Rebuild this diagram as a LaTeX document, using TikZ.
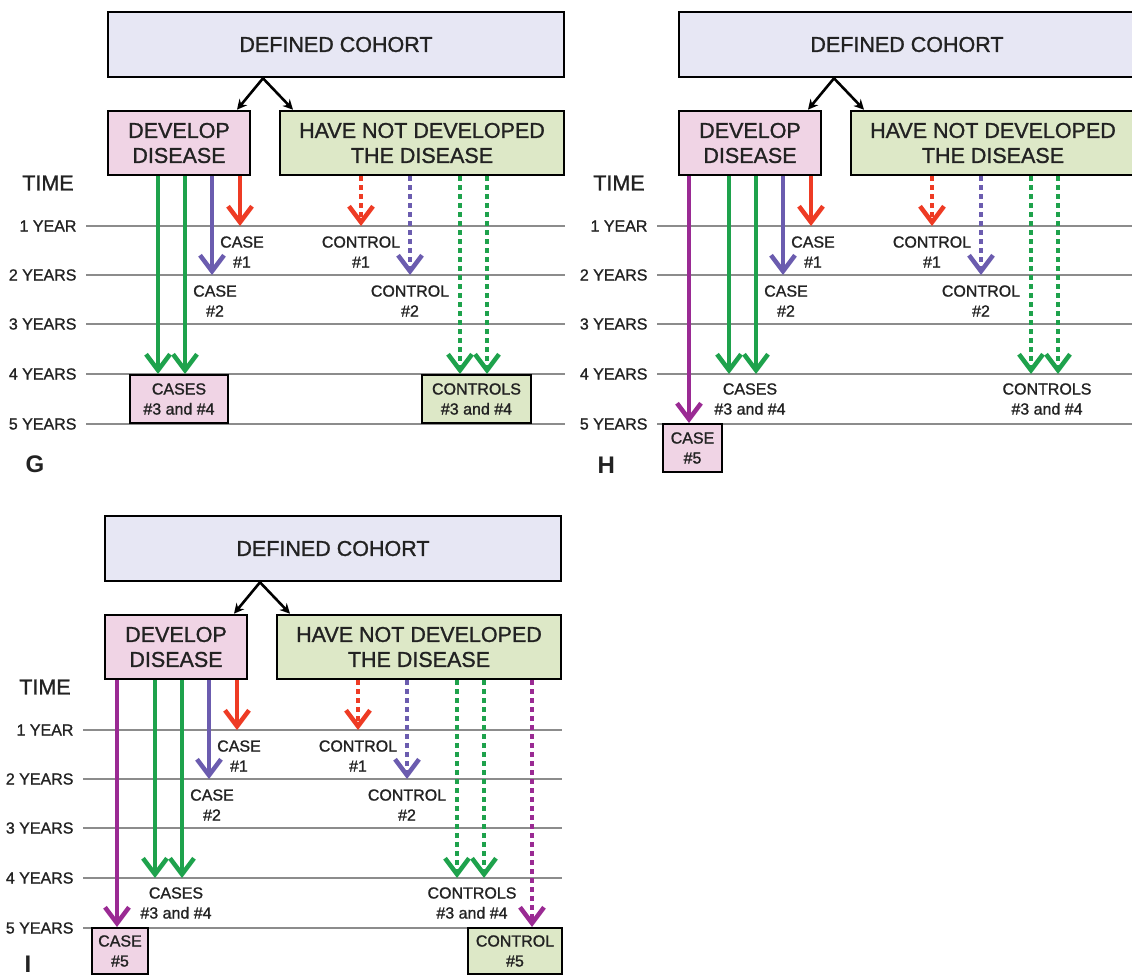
\documentclass[tikz,border=0pt]{standalone}
\usepackage{fontspec}
\setmainfont{Liberation Sans}[UprightFeatures={RawFeature={embolden=1.2}}]
\usetikzlibrary{arrows.meta}

\definecolor{cohortfill}{HTML}{E7E7F4}
\definecolor{casefill}{HTML}{F0D4E5}
\definecolor{ctrlfill}{HTML}{DDE8C7}
\definecolor{redarr}{HTML}{EE3B24}
\definecolor{bluearr}{HTML}{6B5CAF}
\definecolor{greenarr}{HTML}{1EA24C}
\definecolor{purparr}{HTML}{9A2A93}
\definecolor{timegrey}{HTML}{8C8C8C}
\definecolor{inkgrey}{HTML}{222222}

\begin{document}
\begin{tikzpicture}[x=1pt, y=-1pt,
        box/.style={draw=black, line width=2.6pt, inner sep=0pt, align=center, text=inkgrey},
        title/.style={font=\fontsize{21.5}{25}\selectfont},
        small/.style={font=\fontsize{16}{20}\selectfont, text=inkgrey, align=center},
        yearlbl/.style={font=\fontsize{16}{20}\selectfont, text=inkgrey, anchor=east},
        timeline/.style={draw=timegrey, line width=1.4pt},
        solidarr/.style={line width=4.5pt, -{Straight Barb[length=16pt,width=24pt]}},
        dotarr/.style={line width=4.5pt, dash pattern=on 4.5pt off 4.5pt, -{Straight Barb[length=16pt,width=24pt]}},
        split/.style={line width=2.6pt, -{Stealth[length=10pt,width=10pt]}},
        panellbl/.style={font=\fontsize{24}{28}\selectfont\bfseries, text=inkgrey, anchor=west}
    ]
    \useasboundingbox (0,0) rectangle (1132,976);
    \clip (0,0) rectangle (1132,976);

    % -- common part of the three panels G, H, I --------------------------------
    \foreach \p/\dx/\dy in {G/0/0, H/571/0, I/-3/504} {
        \begin{scope}[shift={(\dx,\dy)}]
            % boxes
            \node[box, title, fill=cohortfill, minimum width=456pt, minimum height=65pt] (coh\p) at (336,44.5) {DEFINED COHORT};
            \node[box, title, fill=casefill, minimum width=142pt, minimum height=64pt] (dev\p) at (179,143) {DEVELOP\\DISEASE};
            \node[box, title, fill=ctrlfill, minimum width=284pt, minimum height=64pt] (hn\p) at (422,143) {HAVE NOT DEVELOPED\\THE DISEASE};
            \draw[split] (coh\p.south -| 263,0) -- (dev\p.north -| 237,0);
            \draw[split] (coh\p.south -| 263,0) -- (hn\p.north -| 293,0);

            % time axis
            \node[title, text=inkgrey] (time\p) at (48,183) {TIME};
            \foreach \n/\yr/\lbl in {1/226/1 YEAR, 2/275/2 YEARS, 3/324/3 YEARS, 4/374/4 YEARS, 5/424/5 YEARS} {
                \node[yearlbl] (yr\n\p) at (80,\yr) {\lbl};
                \coordinate (t\n\p) at (86,\yr);
                \draw[timeline] (t\n\p) -- ++(479,0);
            }

            % cases: solid arrows
            \foreach \x in {158,185} {
                \draw[solidarr, greenarr] (dev\p.south -| \x,0) -- (\x,0 |- t4\p);
            }
            \draw[solidarr, bluearr] (dev\p.south -| 212,0) -- (212,0 |- t2\p);
            \draw[solidarr, redarr] (dev\p.south -| 240,0) -- (240,0 |- t1\p);

            % controls: dotted arrows
            \draw[dotarr, redarr] (hn\p.south -| 361,0) -- (361,0 |- t1\p);
            \draw[dotarr, bluearr] (hn\p.south -| 410,0) -- (410,0 |- t2\p);
            \foreach \x in {460,487} {
                \draw[dotarr, greenarr] (hn\p.south -| \x,0) -- (\x,0 |- t4\p);
            }

            % labels #1 and #2
            \node[small] (case1\p) at (242,252) {CASE\\\#1};
            \node[small] (case2\p) at (215,301) {CASE\\\#2};
            \node[small] (ctrl1\p) at (361,252) {CONTROL\\\#1};
            \node[small] (ctrl2\p) at (410,301) {CONTROL\\\#2};
        \end{scope}
    }

    % -- G: cases and controls #3 and #4 in boxes --------------------------------
    \node[box, small, fill=casefill, line width=2pt, minimum width=98pt, minimum height=48pt] (cases34G) at (179,399) {CASES\\\#3 and \#4};
    \node[box, small, fill=ctrlfill, line width=2pt, minimum width=109pt, minimum height=48pt] (ctrls34G) at (476.5,399) {CONTROLS\\\#3 and \#4};
    \node[panellbl] (lblG) at (22,464) {G};

    % -- H: case #5 ----------------------------------------------------------------
    \node[small] (cases34H) at (750,399) {CASES\\\#3 and \#4};
    \node[small] (ctrls34H) at (1047,399) {CONTROLS\\\#3 and \#4};
    \node[box, small, fill=casefill, line width=2pt, minimum width=59pt, minimum height=48pt] (case5H) at (692.5,448) {CASE\\\#5};
    \draw[solidarr, purparr] (devH.south -| 689,0) -- (case5H.north -| 689,0);
    \node[panellbl] (lblH) at (594,465) {H};

    % -- I: case #5 and control #5 -------------------------------------------------
    \node[small] (cases34I) at (176,903) {CASES\\\#3 and \#4};
    \node[small] (ctrls34I) at (472,903) {CONTROLS\\\#3 and \#4};
    \node[box, small, fill=casefill, line width=2pt, minimum width=56pt, minimum height=46pt] (case5I) at (120,951) {CASE\\\#5};
    \node[box, small, fill=ctrlfill, line width=2pt, minimum width=94pt, minimum height=46pt] (ctrl5I) at (515,951) {CONTROL\\\#5};
    \draw[solidarr, purparr] (devI.south -| 117,0) -- (case5I.north -| 117,0);
    \draw[dotarr, purparr] (hnI.south -| 532,0) -- (ctrl5I.north -| 532,0);
    \node[panellbl] (lblI) at (21,964) {I};
\end{tikzpicture}
\end{document}
